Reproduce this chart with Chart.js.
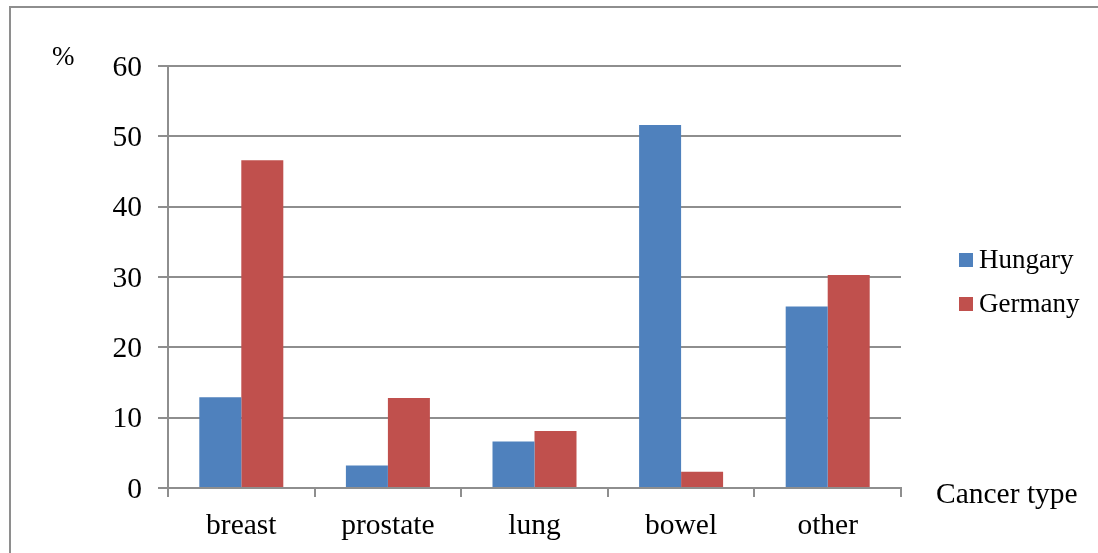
<!DOCTYPE html>
<html>
<head>
<meta charset="utf-8">
<script src="https://cdn.jsdelivr.net/npm/chart.js@4"></script>
<style>
  html, body { margin: 0; padding: 0; background: #ffffff; }
  canvas { display: block; }
</style>
</head>
<body>
<canvas id="chart" width="1098" height="553"></canvas>
<script>
// data
const categories = ["breast", "prostate", "lung", "bowel", "other"];
const hungary = [12.9, 3.2, 6.6, 51.6, 25.8];
const germany = [46.6, 12.8, 8.1, 2.3, 30.3];
const yTicks = [0, 10, 20, 30, 40, 50, 60];

const gridGray = "#8e8e8e";
const serif = "'Liberation Serif', 'Times New Roman', serif";

// frame, axis titles and legend
const extras = {
    id: "extras",
    beforeDraw(chart) {
        let ctx = chart.ctx;
        ctx.save();
        ctx.strokeStyle = gridGray;
        ctx.lineWidth = 2;
        ctx.beginPath();
        ctx.moveTo(10, 560);
        ctx.lineTo(10, 7);
        ctx.lineTo(1110, 7);
        ctx.stroke();
        ctx.restore();
    },
    afterDraw(chart) {
        let ctx = chart.ctx;
        ctx.save();
        ctx.fillStyle = "#000000";
        ctx.textBaseline = "alphabetic";
        ctx.textAlign = "left";
        ctx.font = "27px " + serif;
        ctx.fillText("%", 52, 65);
        ctx.font = "29.5px " + serif;
        ctx.fillText("Cancer type", 936, 503);

        // legend
        ctx.font = "27px " + serif;
        ctx.textBaseline = "middle";
        chart.data.datasets.forEach(function (ds, i) {
            let y = 260 + i * 44;
            ctx.fillStyle = ds.backgroundColor;
            ctx.fillRect(959, y - 7, 14, 14);
            ctx.fillStyle = "#000000";
            ctx.fillText(ds.label, 979, y + 1);
        });
        ctx.restore();
    }
};

let ctx = document.getElementById("chart").getContext("2d");

let chart = new Chart(ctx, {
    type: "bar",
    data: {
        labels: categories,
        datasets: [
            {
                label: "Hungary",
                data: hungary,
                backgroundColor: "#4f81bd"
            },
            {
                label: "Germany",
                data: germany,
                backgroundColor: "#c0504d"
            }
        ]
    },
    options: {
        responsive: false,
        animation: false,
        events: [],
        layout: {
            padding: { left: 0, top: 66, right: 197, bottom: 0 }
        },
        datasets: {
            bar: {
                categoryPercentage: 0.573,
                barPercentage: 1.0,
                borderWidth: 0
            }
        },
        plugins: {
            legend: { display: false },
            tooltip: { enabled: false }
        },
        scales: {
            x: {
                grid: {
                    offset: true,
                    drawOnChartArea: false,
                    drawTicks: true,
                    tickLength: 9,
                    color: gridGray,
                    lineWidth: 2
                },
                border: { color: gridGray, width: 2 },
                ticks: {
                    color: "#000000",
                    padding: 12,
                    font: { family: serif, size: 29.5 }
                },
                afterFit(scale) {
                    scale.height = 65;
                }
            },
            y: {
                min: 0,
                max: 60,
                afterBuildTicks(scale) {
                    scale.ticks = yTicks.map(v => ({ value: v }));
                },
                grid: {
                    color: gridGray,
                    lineWidth: 2,
                    tickLength: 10
                },
                border: { color: gridGray, width: 2 },
                ticks: {
                    color: "#000000",
                    padding: 16,
                    labelOffset: 2,
                    font: { family: serif, size: 29.5 }
                },
                afterFit(scale) {
                    scale.width = 168;
                }
            }
        }
    },
    plugins: [extras]
});
</script>
</body>
</html>
